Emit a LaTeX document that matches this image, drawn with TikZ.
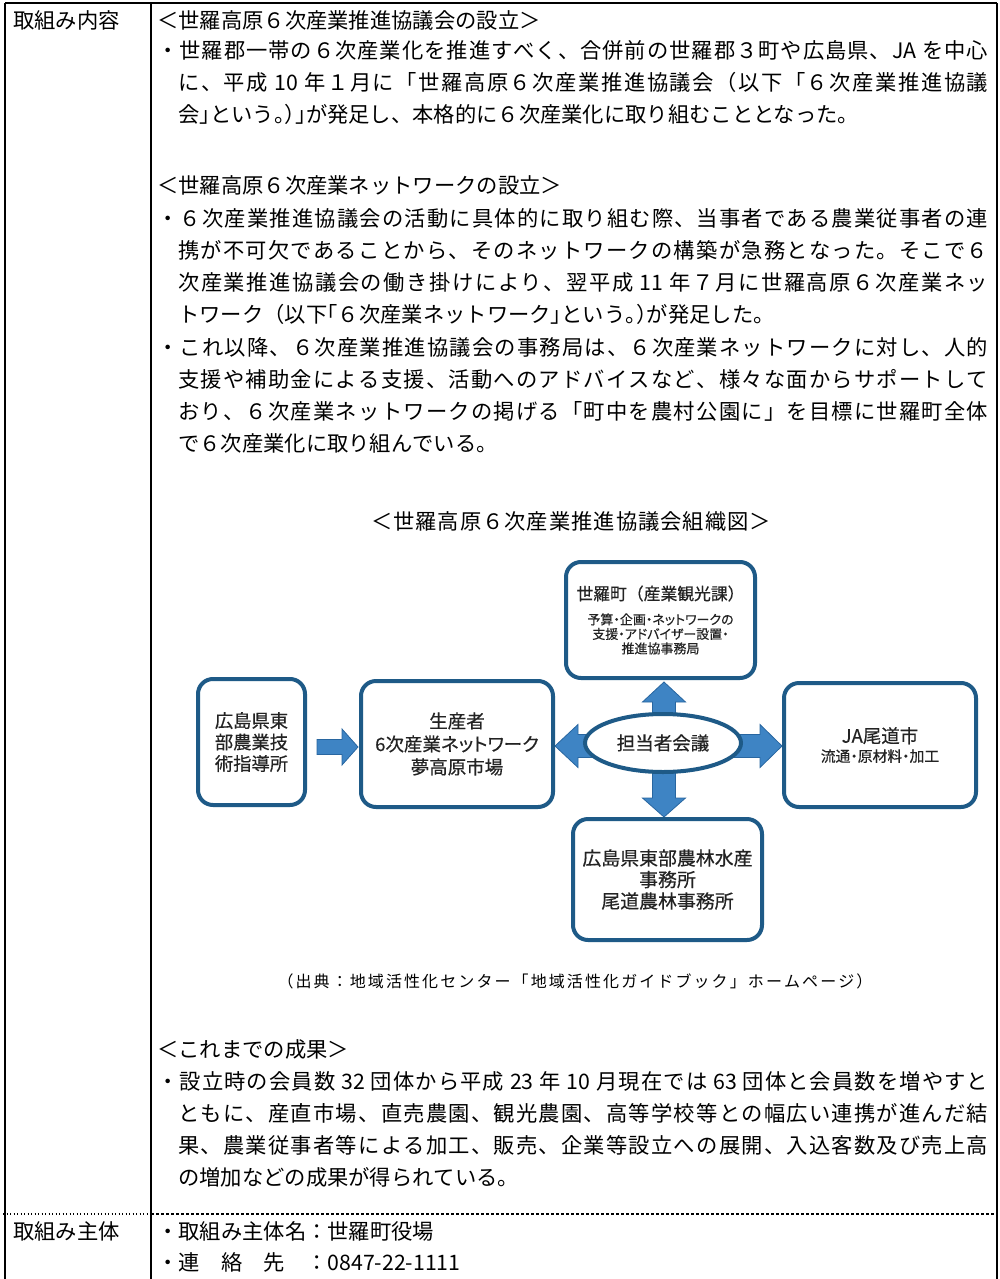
\documentclass[tikz,border=0pt]{standalone}
\usepackage{fontspec}
\newfontfamily\jp{Noto Sans CJK JP}
\newfontfamily\jh{Noto Sans CJK JP}[RawFeature=+halt]
\newfontfamily\dg{Noto Sans CJK JP}[RawFeature=+palt, FakeBold=0.4]
\newfontfamily\dgf{Noto Sans CJK JP}[FakeBold=0.6]
\usetikzlibrary{calc,shapes.geometric,backgrounds}
\definecolor{boxblue}{RGB}{30,90,135}
\definecolor{arrfill}{RGB}{62,132,196}
\definecolor{arrline}{RGB}{40,102,160}
\definecolor{dtext}{RGB}{35,35,35}
\def\spr#1{\ifx\relax#1\unskip\else#1\hskip 0pt plus 1fil\expandafter\spr\fi}
\newcommand\jfull[2]{\hbox to #1{\spr#2\relax}}
\newcommand\hp[1]{{\jh #1}}
\tikzset{
 jt/.style={anchor=base west, inner sep=0pt, font=\jp\fontsize{21.3}{21.3}\selectfont},
 jc/.style={anchor=base, inner sep=0pt, font=\jp\fontsize{21.3}{21.3}\selectfont},
 tbl/.style={line width=1.2pt, black},
 rbox/.style={draw=boxblue, line width=4pt, rounded corners=15pt, align=center, text=dtext, inner sep=2pt},
 fat/.style={fill=arrfill, draw=arrline, line width=0.8pt, line join=miter},
}
\begin{document}
\begin{tikzpicture}[x=1pt,y=-1pt]
\useasboundingbox (0,0) rectangle (1000,1279);
% table
\draw[tbl] (5,3) -- (997,3);
\draw[tbl] (5,3) -- (5,1279);
\draw[tbl] (151,3) -- (151,1279);
\draw[tbl] (997,3) -- (997,1279);
\draw[line width=1.3pt, dash pattern=on 1.3pt off 2.2pt] (3,1214) -- (151,1214);
\draw[line width=1.2pt, dash pattern=on 3pt off 2pt] (151,1214) -- (997,1214);
% left column
\node[jt] (c1) at (13,29) {取組み内容};
\node[jt] (c2) at (13,1239) {取組み主体};
% text
\node[jt] (h1) at (157,29) {＜世羅高原６次産業推進協議会の設立＞};
\node[jt] (p1a) at (157,59) {\jfull{831pt}{・世羅郡一帯の６次産業化を推進すべく、合併前の世羅郡３町や広島県、{JA~}を中心}};
\node[jt] (p1b) at (178,91) {\jfull{810pt}{に、平成{~10~}年１月に「世羅高原６次産業推進協議会（以下「６次産業推進協議}};
\node[jt] (p1c) at (178,123) {会\hp{」}という\hp{。）」}が発足し、本格的に６次産業化に取り組むこととなった。};
\node[jt] (h2) at (157,193) {＜世羅高原６次産業ネットワークの設立＞};
\node[jt] (p2a) at (157,226) {\jfull{831pt}{・６次産業推進協議会の活動に具体的に取り組む際、当事者である農業従事者の連}};
\node[jt] (p2b) at (178,258) {\jfull{810pt}{携が不可欠であることから、そのネットワークの構築が急務となった。そこで６}};
\node[jt] (p2c) at (178,290) {\jfull{810pt}{次産業推進協議会の働き掛けにより、翌平成{~11~}年７月に世羅高原６次産業ネッ}};
\node[jt] (p2d) at (178,322) {トワーク（以下\hp{「}６次産業ネットワーク\hp{」}という\hp{。）}が発足した。};
\node[jt] (p3a) at (157,355) {\jfull{831pt}{・これ以降、６次産業推進協議会の事務局は、６次産業ネットワークに対し、人的}};
\node[jt] (p3b) at (178,387) {\jfull{810pt}{支援や補助金による支援、活動へのアドバイスなど、様々な面からサポートして}};
\node[jt] (p3c) at (178,419) {\jfull{810pt}{おり、６次産業ネットワークの掲げる「町中を農村公園に」を目標に世羅町全体}};
\node[jt] (p3d) at (178,451) {\hbox to 316pt{\spr で６次産業化に取り組んでいる。\relax}};
\node[jc] (title) at (571,529) {\jfull{400pt}{＜世羅高原６次産業推進協議会組織図＞}};
\node[anchor=base, inner sep=0pt, font=\jp\fontsize{16}{16}\selectfont] (src) at (575,987) {\jfull{595pt}{（出典：地域活性化センター「地域活性化ガイドブック」ホームページ）}};
\node[jt] (h3) at (157,1057) {＜これまでの成果＞};
\node[jt] (p4a) at (157,1089) {\jfull{831pt}{・設立時の会員数{~32~}団体から平成{~23~}年{~10~}月現在では{~63~}団体と会員数を増やすと}};
\node[jt] (p4b) at (178,1121) {\jfull{810pt}{ともに、産直市場、直売農園、観光農園、高等学校等との幅広い連携が進んだ結}};
\node[jt] (p4c) at (178,1153) {\jfull{810pt}{果、農業従事者等による加工、販売、企業等設立への展開、入込客数及び売上高}};
\node[jt] (p4d) at (178,1185) {\hbox to 340pt{\spr の増加などの成果が得られている。\relax}};
\node[jt] (q1) at (157,1239) {・取組み主体名：世羅町役場};
\node[jt] (q2) at (157,1270) {・連　絡　先　：0847-22-1111};
% diagram
\node[rbox, minimum width=107pt, minimum height=126pt, font=\dg\fontsize{18.3}{21.5}\selectfont] (A) at (251.5,742) {広島県東\\部農業技\\術指導所};
\node[rbox, minimum width=192pt, minimum height=126pt, font=\dg\fontsize{18.5}{23}\selectfont] (B) at (457,744) {生産者\\6次産業ネットワーク\\夢高原市場};
\node[rbox, minimum width=189pt, minimum height=116pt, font=\dg\fontsize{13}{14.5}\selectfont] (T) at (660.5,620) {{\dgf\fontsize{16.8}{16.8}\selectfont 世羅町（産業観光課）}\\[10pt]予算・企画・ネットワークの\\支援・アドバイザー設置・\\推進協事務局};
\node[rbox, minimum width=192pt, minimum height=124pt, font=\dg\fontsize{14.8}{16}\selectfont] (J) at (880,745) {{\fontsize{18.5}{18.5}\selectfont JA尾道市}\\[3pt]流通・原材料・加工};
\node[rbox, minimum width=189pt, minimum height=121pt, font=\dg\fontsize{18.9}{21.5}\selectfont] (D) at (667.5,879.5) {広島県東部農林水産\\事務所\\尾道農林事務所};
\node[ellipse, draw=boxblue, line width=4pt, fill=white, minimum width=156pt, minimum height=58pt, inner sep=0pt, text=dtext, font=\dg\fontsize{18.5}{18.5}\selectfont] (E) at (663,743) {担当者会議};
\begin{pgfonlayer}{background}
\fill[white] (0,0) rectangle (1000,1279);
\coordinate (hl) at ($(B.east)+(0,2)$);
\coordinate (hr) at ($(J.west)+(0,1)$);
\coordinate (vx) at ($(T.south)!0.5!(D.north)$);
\coordinate (vt0) at (vx |- T.south);
\coordinate (vt) at ($(vt0)+(0,2)$);
\coordinate (vb) at (vx |- D.north);
\coordinate (ab1) at ($(A.east)+(10,5)$);
\coordinate (ab2) at ($(B.west)+(-1,3)$);
\draw[fat] (hl) -- ($(hl)+(23,-21.5)$) -- ($(hl)+(23,-11.5)$) -- ($(hr)+(-22,-11.5)$) -- ($(hr)+(-22,-21.5)$) -- (hr) -- ($(hr)+(-22,21.5)$) -- ($(hr)+(-22,11.5)$) -- ($(hl)+(23,11.5)$) -- ($(hl)+(23,21.5)$) -- cycle;
\draw[fat] (vt) -- ($(vt)+(21.5,20)$) -- ($(vt)+(11.5,20)$) -- ($(vb)+(11.5,-19)$) -- ($(vb)+(21.5,-19)$) -- (vb) -- ($(vb)+(-21.5,-19)$) -- ($(vb)+(-11.5,-19)$) -- ($(vt)+(-11.5,20)$) -- ($(vt)+(-21.5,20)$) -- cycle;
\draw[fat] ($(ab1)+(0,-7.5)$) -- ($(ab2)+(-16,-7.5)$) -- ($(ab2)+(-16,-18)$) -- (ab2) -- ($(ab2)+(-16,18)$) -- ($(ab2)+(-16,7.5)$) -- ($(ab1)+(0,7.5)$) -- cycle;
\end{pgfonlayer}
\end{tikzpicture}
\end{document}
